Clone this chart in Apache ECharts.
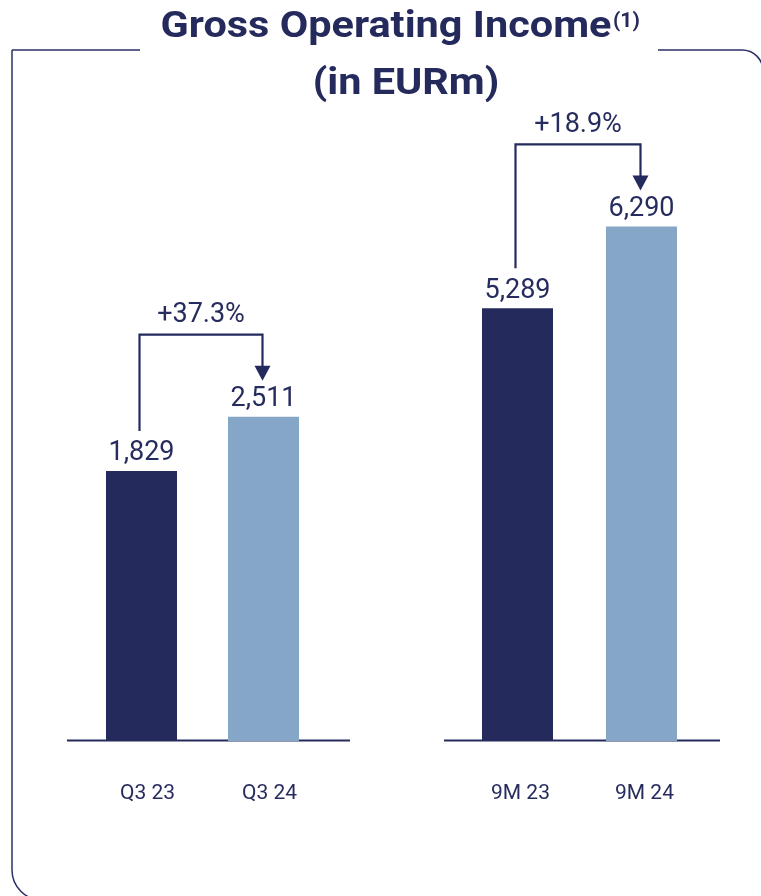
<!DOCTYPE html>
<html>
<head>
<meta charset="utf-8">
<script src="https://cdn.jsdelivr.net/npm/echarts@6/dist/echarts.min.js"></script>
<style>
  html, body { margin: 0; padding: 0; background: #fff; }
  #chart { width: 761px; height: 896px; }
</style>
</head>
<body>
<div id="chart"></div>
<script>
// data
const quarterCategories = ['Q3 23', 'Q3 24'];
const quarterValues = [1829, 2511];
const nineMonthCategories = ['9M 23', '9M 24'];
const nineMonthValues = [5289, 6290];
const growthLabels = ['+37.3%', '+18.9%'];

const navy = '#252a5c';
const lightBlue = '#86a6c8';
const textColor = '#272c5f';
const barColors = [navy, lightBlue];
const font = 'Roboto, "Noto Sans", sans-serif';

const chart = echarts.init(document.getElementById('chart'));

const toBars = values => values.map((v, i) => ({ value: v, itemStyle: { color: barColors[i] } }));

const categoryAxis = (gridIndex, data, shift) => ({
  gridIndex: gridIndex,
  type: 'category',
  data: data,
  axisLine: { show: false },
  axisTick: { show: false },
  axisLabel: { margin: 42, fontSize: 21, color: textColor, fontFamily: font, padding: [0, 0, 0, shift] }
});

const barLabel = {
  show: true,
  position: 'top',
  distance: 4,
  fontSize: 27,
  lineHeight: 27,
  color: textColor,
  fontFamily: font,
  formatter: p => p.value.toLocaleString('en-US')
};

chart.setOption({
  animation: false,
  grid: [
    { left: 80.5, width: 244, top: 100, bottom: 155 },
    { left: 455.5, width: 248, top: 100, bottom: 155 }
  ],
  xAxis: [
    categoryAxis(0, quarterCategories, 12),
    categoryAxis(1, nineMonthCategories, 6)
  ],
  yAxis: [
    // the quarter panel is drawn on a cut axis in the source, bars rise from the axis minimum
    { gridIndex: 0, type: 'value', min: -1563, max: 6490, startValue: -1563, show: false },
    { gridIndex: 1, type: 'value', min: 0, max: 7836, show: false }
  ],
  series: [
    { type: 'bar', xAxisIndex: 0, yAxisIndex: 0, barWidth: 71, data: toBars(quarterValues), label: barLabel },
    { type: 'bar', xAxisIndex: 1, yAxisIndex: 1, barWidth: 71, data: toBars(nineMonthValues), label: barLabel }
  ]
});

const titleStyle = { fontSize: 37, fontWeight: 'bold', fontFamily: font, fill: navy, align: 'center', verticalAlign: 'bottom' };

const elements = [
  // frame
  {
    type: 'rect', silent: true,
    shape: { x: 12, y: 50, width: 751, height: 850, r: [0, 21, 0, 30] },
    style: { fill: 'none', stroke: '#2a3068', lineWidth: 1.5 }
  },
  { type: 'rect', silent: true, shape: { x: 140, y: 40, width: 518, height: 20 }, style: { fill: '#fff' } },
  { type: 'text', x: 386, y: 46, scaleX: 1.12, style: Object.assign({ text: 'Gross Operating Income' }, titleStyle) },
  {
    type: 'text', x: 613, y: 11,
    style: { text: '(1)', fontSize: 21, fontWeight: 'bold', fontFamily: font, fill: navy, align: 'left', verticalAlign: 'top' }
  },
  { type: 'text', x: 406, y: 103, scaleX: 1.12, style: Object.assign({ text: '(in EURm)' }, titleStyle) },
  // baselines
  { type: 'line', silent: true, shape: { x1: 67, y1: 740.5, x2: 350, y2: 740.5 }, style: { stroke: navy, lineWidth: 2 } },
  { type: 'line', silent: true, shape: { x1: 444, y1: 740.5, x2: 720, y2: 740.5 }, style: { stroke: navy, lineWidth: 2 } }
];

// growth arrows, placed from the bar positions
[[quarterValues, 0], [nineMonthValues, 1]].forEach(([vals, s]) => {
  const p1 = chart.convertToPixel({ seriesIndex: s }, [0, vals[0]]);
  const p2 = chart.convertToPixel({ seriesIndex: s }, [1, vals[1]]);
  const x1 = p1[0] - 2;
  const x2 = p2[0] - 1;
  const yStart = p1[1] - 40;
  const yTop = p2[1] - 82;
  const tip = p2[1] - 36;
  elements.push(
    {
      type: 'polyline', silent: true,
      shape: { points: [[x1, yStart], [x1, yTop], [x2, yTop], [x2, tip - 12]] },
      style: { stroke: navy, lineWidth: 2.2, fill: 'none' }
    },
    {
      type: 'polygon', silent: true,
      shape: { points: [[x2 - 8, tip - 15], [x2 + 8, tip - 15], [x2, tip]] },
      style: { fill: navy }
    },
    {
      type: 'text', x: (x1 + x2) / 2, y: yTop - 19,
      style: { text: growthLabels[s], fontSize: 27, fontFamily: font, fill: textColor, align: 'center', verticalAlign: 'middle' }
    }
  );
});

chart.setOption({ graphic: { elements: elements } });
</script>
</body>
</html>
